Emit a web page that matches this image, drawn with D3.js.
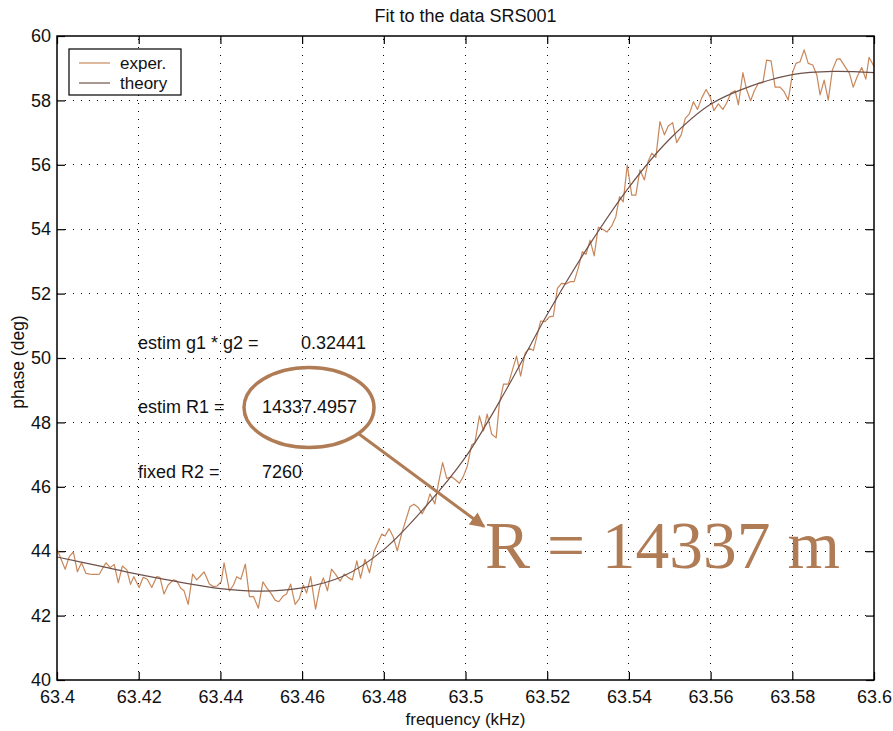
<!DOCTYPE html>
<html>
<head>
<meta charset="utf-8">
<script src="https://cdn.jsdelivr.net/npm/d3@7"></script>
<style>
  body { margin: 0; background: #fff; }
  svg { display: block; font-family: "Liberation Sans", Arial, Helvetica, sans-serif; }
</style>
</head>
<body>
<svg id="chart" width="893" height="731"></svg>
<script>
// ---------------- data ----------------
const title = "Fit to the data SRS001";
const xLabel = "frequency (kHz)";
const yLabel = "phase (deg)";
const xTicks = [63.4, 63.42, 63.44, 63.46, 63.48, 63.5, 63.52, 63.54, 63.56, 63.58, 63.6];
const xTickLabels = ["63.4", "63.42", "63.44", "63.46", "63.48", "63.5", "63.52", "63.54", "63.56", "63.58", "63.6"];
const yTicks = [40, 42, 44, 46, 48, 50, 52, 54, 56, 58, 60];
const seriesNames = ["exper.", "theory"];

const expFreq = [
  63.4000, 63.4020, 63.4030, 63.4040, 63.4050, 63.4060, 63.4071, 63.4080, 63.4089, 63.4097,
  63.4104, 63.4112, 63.4120, 63.4130, 63.4140, 63.4150, 63.4160, 63.4171, 63.4180, 63.4188,
  63.4201, 63.4211, 63.4221, 63.4232, 63.4244, 63.4252, 63.4262, 63.4272, 63.4285, 63.4293,
  63.4303, 63.4311, 63.4321, 63.4332, 63.4342, 63.4351, 63.4360, 63.4373, 63.4383, 63.4392,
  63.4402, 63.4409, 63.4422, 63.4432, 63.4440, 63.4450, 63.4461, 63.4471, 63.4481, 63.4493,
  63.4504, 63.4513, 63.4524, 63.4534, 63.4543, 63.4554, 63.4562, 63.4572, 63.4583, 63.4593,
  63.4603, 63.4611, 63.4621, 63.4633, 63.4643, 63.4652, 63.4662, 63.4672, 63.4682, 63.4693,
  63.4703, 63.4713, 63.4723, 63.4734, 63.4743, 63.4754, 63.4765, 63.4776, 63.4785, 63.4795,
  63.4803, 63.4813, 63.4823, 63.4833, 63.4844, 63.4854, 63.4864, 63.4874, 63.4884, 63.4894,
  63.4905, 63.4913, 63.4925, 63.4933, 63.4944, 63.4954, 63.4966, 63.4976, 63.4985, 63.4994,
  63.5004, 63.5015, 63.5023, 63.5034, 63.5044, 63.5053, 63.5064, 63.5075, 63.5083, 63.5093,
  63.5105, 63.5115, 63.5125, 63.5135, 63.5146, 63.5156, 63.5166, 63.5175, 63.5184, 63.5195,
  63.5205, 63.5215, 63.5225, 63.5235, 63.5246, 63.5256, 63.5266, 63.5276, 63.5286, 63.5295,
  63.5305, 63.5315, 63.5325, 63.5336, 63.5346, 63.5358, 63.5368, 63.5377, 63.5386, 63.5396,
  63.5407, 63.5417, 63.5427, 63.5438, 63.5447, 63.5456, 63.5466, 63.5476, 63.5487, 63.5496,
  63.5507, 63.5517, 63.5528, 63.5538, 63.5548, 63.5558, 63.5568, 63.5578, 63.5589, 63.5599,
  63.5608, 63.5619, 63.5630, 63.5639, 63.5650, 63.5660, 63.5668, 63.5679, 63.5688, 63.5698,
  63.5707, 63.5717, 63.5728, 63.5737, 63.5748, 63.5758, 63.5770, 63.5780, 63.5790, 63.5801,
  63.5809, 63.5819, 63.5829, 63.5839, 63.5850, 63.5860, 63.5868, 63.5878, 63.5888, 63.5898,
  63.5909, 63.5917, 63.5929, 63.5940, 63.5949, 63.5959, 63.5970, 63.5980, 63.5988, 63.6000
];
const expPhase = [
  44.07, 43.44, 43.83, 43.98, 43.36, 43.64, 43.31, 43.29, 43.28, 43.28,
  43.29, 43.48, 43.64, 43.49, 43.59, 43.02, 43.54, 43.42, 42.97, 43.21,
  42.87, 43.19, 43.13, 42.87, 43.21, 43.19, 42.67, 42.95, 43.11, 43.08,
  42.85, 42.77, 42.35, 43.29, 43.11, 43.23, 43.36, 42.98, 42.90, 42.92,
  43.05, 43.64, 42.77, 42.95, 43.21, 43.13, 43.60, 42.59, 42.59, 42.23,
  43.05, 42.87, 42.69, 42.48, 42.43, 42.61, 42.67, 42.98, 42.35, 42.52,
  42.95, 42.70, 43.21, 42.20, 42.87, 43.17, 42.77, 43.44, 43.28, 43.07,
  43.29, 43.18, 43.11, 43.70, 43.16, 43.75, 43.33, 43.98, 44.25, 44.53,
  44.47, 44.70, 44.45, 44.01, 44.56, 44.97, 45.38, 45.46, 45.36, 45.16,
  45.43, 45.78, 45.47, 46.06, 46.75, 46.26, 46.31, 46.21, 46.11, 46.30,
  46.62, 47.30, 47.37, 48.20, 47.74, 48.26, 47.64, 47.52, 48.59, 49.19,
  49.19, 49.63, 50.06, 49.44, 50.15, 50.30, 50.23, 50.68, 51.15, 51.13,
  51.28, 51.30, 52.16, 52.32, 52.30, 52.37, 52.37, 52.79, 53.30, 53.22,
  53.66, 53.17, 54.06, 54.00, 53.91, 54.10, 54.39, 55.01, 54.85, 55.99,
  55.06, 55.06, 55.84, 55.53, 56.10, 56.36, 56.23, 57.34, 56.93, 57.20,
  57.31, 56.69, 56.93, 57.44, 57.58, 57.96, 57.72, 58.07, 58.34, 58.11,
  57.68, 57.89, 57.72, 57.91, 58.24, 58.30, 57.86, 58.86, 58.34, 57.99,
  58.30, 58.53, 58.55, 59.25, 59.23, 58.41, 58.41, 58.27, 58.01, 58.88,
  59.15, 59.20, 59.57, 59.15, 59.10, 58.79, 58.17, 58.63, 58.01, 58.94,
  59.28, 59.29, 59.05, 58.84, 58.41, 58.74, 59.02, 58.66, 59.34, 59.05
];

const theoryFreq = [63.40, 63.41, 63.42, 63.43, 63.44, 63.45, 63.46, 63.47, 63.48, 63.49, 63.50,
                    63.51, 63.52, 63.53, 63.54, 63.55, 63.56, 63.57, 63.58, 63.59, 63.60];
const theoryPhase = [43.82, 43.55, 43.28, 43.04, 42.84, 42.76, 42.86, 43.22, 44.05, 45.35, 46.92,
                     49.02, 51.35, 53.45, 55.30, 56.80, 57.88, 58.45, 58.80, 58.90, 58.86];

const annLabels = ["estim g1 * g2 =", "estim R1 =", "fixed R2 ="];
const annValues = ["0.32441", "14337.4957", "7260"];
const annPhase = [50, 48, 46];        // rows aligned with phase levels
const bigText = "R = 14337 m";

// ---------------- layout ----------------
const SANS = "'Liberation Sans', Arial, Helvetica, sans-serif";
const SERIF = "'Liberation Serif', 'Times New Roman', Times, serif";
const svg = d3.select("#chart");
const margin = { left: 57, right: 19, top: 36, bottom: 51 };
const W = 893, H = 731;
const x = d3.scaleLinear().domain([63.4, 63.6]).range([margin.left, W - margin.right]);
const y = d3.scaleLinear().domain([40, 60]).range([H - margin.bottom, margin.top]);

const colExp = "#c8875a";
const colTheory = "#6e514a";
const colAnn = "#b07c55";

// grid (dotted)
const grid = svg.append("g");
grid.selectAll("line.gx").data(xTicks.slice(1, -1)).join("line")
  .attr("x1", d => x(d)).attr("x2", d => x(d))
  .attr("y1", y(40)).attr("y2", y(60))
  .attr("stroke", "#000").attr("stroke-width", 1).attr("stroke-dasharray", "1,7")
  .attr("shape-rendering", "crispEdges");
grid.selectAll("line.gy").data(yTicks.slice(1, -1)).join("line")
  .attr("y1", d => y(d)).attr("y2", d => y(d))
  .attr("x1", x(63.4)).attr("x2", x(63.6))
  .attr("stroke", "#000").attr("stroke-width", 1).attr("stroke-dasharray", "1,7")
  .attr("shape-rendering", "crispEdges");

// axes (ticks inward on all four sides)
const fmtX = (d, i) => xTickLabels[i];
const axB = svg.append("g").attr("transform", `translate(0,${y(40)})`)
  .call(d3.axisBottom(x).tickValues(xTicks).tickFormat(fmtX).tickSizeInner(-8).tickSizeOuter(0).tickPadding(10));
const axT = svg.append("g").attr("transform", `translate(0,${y(60)})`)
  .call(d3.axisTop(x).tickValues(xTicks).tickFormat("").tickSizeInner(-8).tickSizeOuter(0));
const axL = svg.append("g").attr("transform", `translate(${x(63.4)},0)`)
  .call(d3.axisLeft(y).tickValues(yTicks).tickFormat(d3.format("d")).tickSizeInner(-8).tickSizeOuter(0).tickPadding(6));
const axR = svg.append("g").attr("transform", `translate(${x(63.6)},0)`)
  .call(d3.axisRight(y).tickValues(yTicks).tickFormat("").tickSizeInner(-8).tickSizeOuter(0));
[axB, axT, axL, axR].forEach(a => {
  a.select(".domain").remove();
  a.selectAll(".tick line").attr("stroke", "#000").attr("stroke-width", 1.2);
  a.selectAll("text").attr("fill", "#111").attr("font-size", 18).style("font-family", SANS);
});
axB.selectAll("text").attr("dy", "0.71em");

// series
const pts = expFreq.map((f, i) => [f, expPhase[i]]);
svg.append("path").datum(pts)
  .attr("fill", "none").attr("stroke", colExp).attr("stroke-width", 1.2)
  .attr("stroke-linejoin", "round")
  .attr("d", d3.line().x(d => x(d[0])).y(d => y(d[1])));

const tpts = theoryFreq.map((f, i) => [f, theoryPhase[i]]);
svg.append("path").datum(tpts)
  .attr("fill", "none").attr("stroke", colTheory).attr("stroke-width", 1.2)
  .attr("d", d3.line().curve(d3.curveCatmullRom.alpha(0.5)).x(d => x(d[0])).y(d => y(d[1])));

// frame
svg.append("rect")
  .attr("x", x(63.4)).attr("y", y(60))
  .attr("width", x(63.6) - x(63.4)).attr("height", y(40) - y(60))
  .attr("fill", "none").attr("stroke", "#000").attr("stroke-width", 1.5);

// title and axis labels
const midX = (x(63.4) + x(63.6)) / 2;
svg.append("text").attr("x", midX).attr("y", 22)
  .attr("text-anchor", "middle").attr("font-size", 18).attr("fill", "#111").text(title);
svg.append("text").attr("x", midX).attr("y", 725)
  .attr("text-anchor", "middle").attr("font-size", 17).attr("fill", "#111").text(xLabel);
svg.append("text").attr("transform", `translate(24,${(y(40) + y(60)) / 2 + 4}) rotate(-90)`)
  .attr("text-anchor", "middle").attr("font-size", 17.5).attr("fill", "#111").text(yLabel);

// legend
const lg = svg.append("g");
lg.append("rect").attr("x", 69).attr("y", 49).attr("width", 112).attr("height", 46)
  .attr("fill", "#fff").attr("stroke", "#000").attr("stroke-width", 1.2);
[colExp, colTheory].forEach((c, i) => {
  const yy = 63 + i * 20;
  lg.append("line").attr("x1", 79).attr("x2", 110).attr("y1", yy).attr("y2", yy)
    .attr("stroke", c).attr("stroke-width", 1.2);
  lg.append("text").attr("x", 120).attr("y", yy).attr("dy", "0.35em")
    .attr("font-size", 17).attr("fill", "#111").text(seriesNames[i]);
});

// annotation texts
const ann = svg.append("g");
annLabels.forEach((t, i) => {
  const by = y(annPhase[i]) - 9;
  ann.append("text").attr("x", 138).attr("y", by).attr("font-size", 18).attr("fill", "#111").text(t);
  ann.append("text").attr("x", i === 0 ? 301 : 262).attr("y", by).attr("font-size", 18).attr("fill", "#111").text(annValues[i]);
});

// ellipse + arrow + big text
const ex = 309, ey = 407.5;
svg.append("ellipse").attr("cx", ex).attr("cy", ey).attr("rx", 65).attr("ry", 40)
  .attr("fill", "none").attr("stroke", colAnn).attr("stroke-width", 3.5);
svg.append("defs").append("marker").attr("id", "ah")
  .attr("viewBox", "0 0 10 10").attr("refX", 9).attr("refY", 5)
  .attr("markerWidth", 6).attr("markerHeight", 5).attr("markerUnits", "strokeWidth")
  .attr("orient", "auto")
  .append("path").attr("d", "M0,0 L10,5 L0,10 Z").attr("fill", colAnn);
svg.append("line").attr("x1", 359).attr("y1", 434).attr("x2", 484).attr("y2", 526.5)
  .attr("stroke", colAnn).attr("stroke-width", 3).attr("marker-end", "url(#ah)");
svg.append("text").attr("x", 485).attr("y", 568)
  .style("font-family", SERIF)
  .attr("font-size", 67.5).attr("fill", colAnn).text(bigText);
</script>
</body>
</html>
